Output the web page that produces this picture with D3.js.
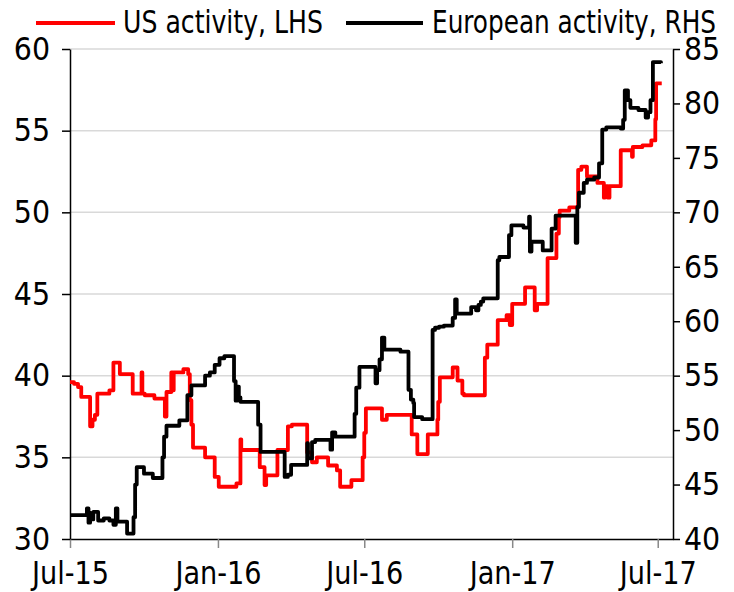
<!DOCTYPE html>
<html>
<head>
<meta charset="utf-8">
<script src="https://cdn.jsdelivr.net/npm/d3@7/dist/d3.min.js"></script>
<style>
  html, body { margin: 0; padding: 0; background: #fff; }
  svg { display: block; }
  text { font-family: "DejaVu Sans Condensed", "Liberation Sans Narrow", sans-serif; fill: #000; }
</style>
</head>
<body>
<svg id="chart" width="734" height="592"></svg>
<script>
// ---------- DATA ----------
const seriesNames = ["US activity, LHS", "European activity, RHS"];
const xTickDates = ["2015-07-01", "2016-01-01", "2016-07-01", "2017-01-01", "2017-07-01"];
const leftTicks = [30, 35, 40, 45, 50, 55, 60];
const rightTicks = [40, 45, 50, 55, 60, 65, 70, 75, 80, 85];

const usDates = ["2015-07-01","2015-07-06","2015-07-11","2015-07-15","2015-07-26","2015-07-29","2015-08-01","2015-08-04","2015-08-19","2015-08-24","2015-09-01","2015-09-17","2015-09-28","2015-09-29","2015-10-02","2015-10-14","2015-10-27","2015-10-29","2015-11-04","2015-11-06","2015-11-07","2015-11-19","2015-11-25","2015-11-27","2015-11-29","2015-12-01","2015-12-16","2015-12-28","2016-01-02","2016-01-24","2016-01-29","2016-01-30","2016-02-22","2016-02-28","2016-03-01","2016-03-15","2016-03-28","2016-04-02","2016-04-21","2016-04-27","2016-05-03","2016-05-17","2016-05-28","2016-06-01","2016-06-15","2016-06-29","2016-07-01","2016-07-03","2016-07-23","2016-07-29","2016-08-29","2016-09-05","2016-09-18","2016-09-30","2016-10-01","2016-10-03","2016-10-19","2016-10-25","2016-10-31","2016-11-02","2016-11-28","2016-12-01","2016-12-14","2016-12-25","2016-12-29","2017-01-01","2017-01-17","2017-01-29","2017-02-01","2017-02-14","2017-02-25","2017-02-28","2017-03-01","2017-03-13","2017-03-24","2017-03-28","2017-04-04","2017-04-17","2017-04-25","2017-04-26","2017-04-30","2017-05-02","2017-05-16","2017-05-30","2017-05-31","2017-06-12","2017-06-23","2017-06-28","2017-06-29","2017-07-06"];
const usValues = [39.6,39.5,39.3,38.7,36.9,37.3,37.6,38.9,39.1,40.8,40.1,38.9,40.2,38.9,38.8,38.6,37.5,39.0,40.2,39.1,40.2,40.4,40.1,38.5,37.0,35.6,35.0,33.8,33.2,33.4,36.1,35.45,34.4,33.3,33.9,35.45,36.9,37.0,35.3,34.7,35.0,34.5,34.2,33.2,33.6,35.0,36.5,38.0,37.3,37.6,36.4,35.2,36.4,37.3,38.4,39.9,40.5,39.7,38.9,38.8,41.1,41.9,43.4,43.7,43.1,44.4,45.4,44.0,44.4,47.2,48.7,49.7,50.1,50.3,52.6,52.8,52.2,51.8,50.9,51.6,50.9,51.6,53.8,53.4,54.0,54.1,54.4,55.7,57.9,57.9];

const euDates = ["2015-07-01","2015-07-22","2015-07-24","2015-07-26","2015-07-27","2015-07-30","2015-08-05","2015-08-12","2015-08-19","2015-08-24","2015-08-27","2015-08-29","2015-09-10","2015-09-18","2015-09-20","2015-09-22","2015-10-01","2015-10-12","2015-10-24","2015-10-26","2015-10-29","2015-11-14","2015-11-24","2015-11-29","2015-12-16","2015-12-22","2015-12-28","2016-01-03","2016-01-09","2016-01-21","2016-01-23","2016-01-25","2016-01-27","2016-01-29","2016-02-20","2016-02-23","2016-03-24","2016-03-28","2016-04-01","2016-04-21","2016-04-22","2016-04-27","2016-05-01","2016-05-20","2016-05-22","2016-05-26","2016-06-19","2016-06-21","2016-06-25","2016-07-15","2016-07-17","2016-07-20","2016-07-23","2016-07-26","2016-08-15","2016-08-25","2016-08-28","2016-08-31","2016-09-01","2016-09-11","2016-09-24","2016-09-27","2016-10-02","2016-10-08","2016-10-19","2016-10-22","2016-10-24","2016-11-11","2016-11-17","2016-11-20","2016-11-23","2016-11-26","2016-12-14","2016-12-16","2016-12-28","2016-12-31","2017-01-15","2017-01-22","2017-01-23","2017-01-25","2017-02-08","2017-02-19","2017-02-24","2017-03-21","2017-03-23","2017-03-25","2017-03-31","2017-04-04","2017-04-13","2017-04-19","2017-04-23","2017-04-28","2017-05-16","2017-05-19","2017-05-21","2017-05-25","2017-05-28","2017-06-07","2017-06-16","2017-06-19","2017-06-22","2017-06-25","2017-07-05"];
const euValues = [42.2,42.8,41.5,42.4,41.8,42.5,41.7,41.9,41.7,41.3,42.8,41.6,40.5,42.0,45.0,46.6,46.0,45.6,47.5,49.4,50.4,50.9,53.2,54.1,55.0,55.3,56.0,56.6,56.8,54.5,52.7,54.0,53.0,52.6,50.5,48.0,45.7,45.9,46.8,48.8,47.4,48.9,49.1,48.2,49.8,49.4,51.5,53.9,55.8,54.3,55.5,56.5,58.5,57.4,57.2,53.7,52.8,52.5,51.2,51.0,59.2,59.4,59.5,59.6,60.3,62.0,60.7,61.3,61.0,61.5,61.8,62.1,65.6,65.9,67.9,68.8,68.6,69.6,66.4,67.3,66.5,68.5,69.7,67.2,70.5,71.8,72.7,73.0,73.2,74.5,77.6,77.8,77.7,78.5,81.2,80.3,79.6,79.4,78.7,79.2,80.3,83.8,83.7];

// ---------- LAYOUT ----------
const parse = d3.utcParse("%Y-%m-%d");
const mLeft = 70, mRight = 673, mTop = 49, mBottom = 539;
const FONT = 32;
const FONT_FAMILY = '"DejaVu Sans Condensed", "Liberation Sans Narrow", sans-serif';

const x = d3.scaleUtc()
  .domain([parse("2015-07-01"), parse("2017-07-20")])
  .range([mLeft, mRight]);
const yL = d3.scaleLinear().domain([30, 60]).range([mBottom, mTop]);
const yR = d3.scaleLinear().domain([40, 85]).range([mBottom, mTop]);

const svg = d3.select("#chart");

// gridlines
svg.append("g").selectAll("line")
  .data(leftTicks.filter(t => t > 30))
  .join("line")
  .attr("x1", mLeft).attr("x2", mRight)
  .attr("y1", d => yL(d)).attr("y2", d => yL(d))
  .attr("stroke", "#d9d9d9").attr("stroke-width", 1.5);

// axes
const fmt = d3.utcFormat("%b-%y");
const xAxis = d3.axisBottom(x)
  .tickValues(xTickDates.map(parse))
  .tickFormat(fmt).tickSize(9).tickSizeOuter(0).tickPadding(13);
const gx = svg.append("g").attr("transform", `translate(0,${mBottom})`).call(xAxis);

const gl = svg.append("g").attr("transform", `translate(${mLeft},0)`)
  .call(d3.axisLeft(yL).tickValues(leftTicks).tickSize(8).tickSizeOuter(0).tickPadding(12));
const gr = svg.append("g").attr("transform", `translate(${mRight},0)`)
  .call(d3.axisRight(yR).tickValues(rightTicks).tickSize(7).tickSizeOuter(0).tickPadding(4));

// condense text to match the narrow typeface of the reference
function condense(sel, k) {
  sel.each(function() {
    const w = this.getComputedTextLength();
    d3.select(this).attr("textLength", w * k).attr("lengthAdjust", "spacingAndGlyphs");
  });
}

[gx, gl, gr].forEach(g => {
  g.select(".domain").attr("stroke", "#000").attr("stroke-width", 1.5);
  g.selectAll(".tick line").attr("stroke", "#000").attr("stroke-width", 1.5);
  g.selectAll("text").attr("font-size", FONT).attr("fill", "#000")
    .style("font-family", FONT_FAMILY);
});
gx.selectAll(".tick line").attr("stroke", "#888");

// condensation factor from the "Jul-15" label (target ~77px wide)
const firstLabel = gx.select(".tick text").node();
const kTick = 77 / firstLabel.getComputedTextLength();
condense(gx.selectAll("text"), kTick);
condense(gl.selectAll("text"), Math.min(1, kTick * 1.05));
condense(gr.selectAll("text"), Math.min(1, kTick * 1.05));

// lines
const usData = usDates.map((d, i) => ({ date: parse(d), value: usValues[i] }));
const euData = euDates.map((d, i) => ({ date: parse(d), value: euValues[i] }));

const lineL = d3.line().curve(d3.curveStepAfter).x(d => x(d.date)).y(d => yL(d.value));
const lineR = d3.line().curve(d3.curveStepAfter).x(d => x(d.date)).y(d => yR(d.value));

svg.append("path").datum(usData).attr("d", lineL)
  .attr("fill", "none").attr("stroke", "#ff0000").attr("stroke-width", 3.8).attr("stroke-linejoin", "round");
svg.append("path").datum(euData).attr("d", lineR)
  .attr("fill", "none").attr("stroke", "#000").attr("stroke-width", 3.8).attr("stroke-linejoin", "round");

// legend (text condensed horizontally with a scale transform)
const legend = [
  { name: seriesNames[0], color: "#ff0000", x1: 36, x2: 115, tx: 123, w: 200 },
  { name: seriesNames[1], color: "#000000", x1: 346, x2: 423, tx: 432, w: 284 }
];
const lg = svg.append("g");
legend.forEach(l => {
  lg.append("line").attr("x1", l.x1).attr("x2", l.x2).attr("y1", 23).attr("y2", 23)
    .attr("stroke", l.color).attr("stroke-width", 4);
  const t = lg.append("text").attr("x", 0).attr("y", 0).attr("font-size", FONT)
    .style("font-family", FONT_FAMILY)
    .text(l.name);
  const w0 = t.node().getComputedTextLength();
  t.attr("transform", `translate(${l.tx},33) scale(${l.w / w0},1)`);
});
</script>
</body>
</html>
